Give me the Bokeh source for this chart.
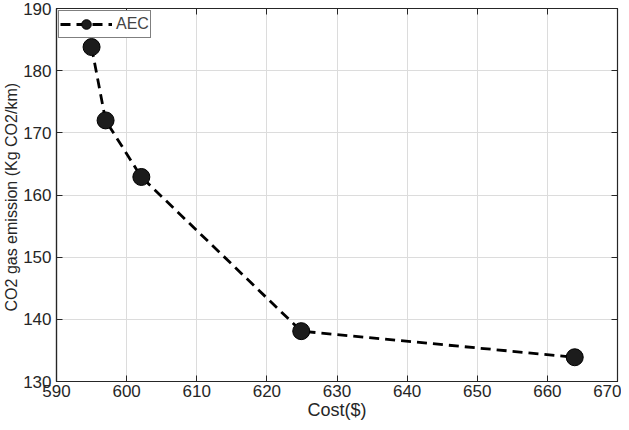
from bokeh.plotting import figure
from bokeh.models import LinearAxis, Legend, LegendItem, FixedTicker, Range1d, CustomJSTickFormatter
from bokeh.embed import file_html
from bokeh.resources import INLINE

cost = [595.0, 597.0, 602.1, 624.9, 663.9]
emission = [183.8, 172.0, 162.9, 138.1, 133.9]
series_name = "AEC"
x_ticks = [590, 600, 610, 620, 630, 640, 650, 660, 670]
y_ticks = [130, 140, 150, 160, 170, 180, 190]

FONT = "Liberation Sans"
AX = "#262626"

p = figure(width=621, height=422, output_backend="svg", toolbar_location=None,
           x_range=Range1d(590, 670), y_range=Range1d(130, 190),
           min_border_left=52, min_border_right=4, min_border_top=8, min_border_bottom=40)
p.outline_line_color = AX
p.outline_line_width = 1.2

for ax in (p.xaxis[0], p.yaxis[0]):
    ax.major_tick_in = 6
    ax.major_tick_out = 0
    ax.minor_tick_in = 0
    ax.minor_tick_out = 0
    ax.axis_line_color = AX
    ax.axis_line_width = 1.2
    ax.major_tick_line_color = AX
    ax.major_label_text_font = FONT
    ax.major_label_text_font_size = "17px"
    ax.major_label_text_color = "#262626"
    ax.axis_label_text_font = FONT
    ax.axis_label_text_font_style = "normal"
    ax.axis_label_text_color = "#262626"

p.xaxis[0].ticker = FixedTicker(ticks=x_ticks)
p.yaxis[0].ticker = FixedTicker(ticks=y_ticks)
p.xaxis[0].axis_label = "Cost($)"
p.xaxis[0].axis_label_text_font_size = "18px"
p.xaxis[0].axis_label_standoff = 0
p.xaxis[0].major_label_standoff = 3
p.yaxis[0].axis_label = "CO2 gas emission  (Kg CO2/km)"
p.yaxis[0].axis_label_text_font_size = "16px"
p.yaxis[0].axis_label_standoff = 0
p.yaxis[0].major_label_standoff = 5

blank = CustomJSTickFormatter(code="return '';")
right = LinearAxis(ticker=FixedTicker(ticks=y_ticks), major_tick_in=6, major_tick_out=0,
                   minor_tick_in=0, minor_tick_out=0, formatter=blank, axis_label_standoff=0,
                   major_label_text_font_size="1px",
                   axis_line_color=AX, major_tick_line_color=AX, major_label_standoff=0)
top = LinearAxis(ticker=FixedTicker(ticks=x_ticks), major_tick_in=6, major_tick_out=0,
                 minor_tick_in=0, minor_tick_out=0, formatter=blank, axis_label_standoff=0,
                 major_label_text_font_size="1px",
                 axis_line_color=AX, major_tick_line_color=AX, major_label_standoff=0)
p.add_layout(right, "right")
p.add_layout(top, "above")

p.xgrid.ticker = FixedTicker(ticks=x_ticks)
p.ygrid.ticker = FixedTicker(ticks=y_ticks)
p.grid.grid_line_color = "#dcdcdc"
p.grid.grid_line_width = 1

ln = p.line(cost, emission, line_color="black", line_width=2.8, line_dash="10 6")
sc = p.scatter(cost, emission, size=17, fill_color="#1c1c1c", line_color="black", line_width=1)

legend = Legend(items=[LegendItem(label=series_name, renderers=[ln, sc])],
                location="top_left", margin=2, padding=1, spacing=0,
                glyph_width=52, glyph_height=24, label_standoff=4,
                label_text_font=FONT, label_text_font_size="16px", label_height=16,
                border_line_color="black", border_line_width=1.2,
                background_fill_alpha=1)
p.add_layout(legend)

open("out.html", "w").write(file_html(p, INLINE))
